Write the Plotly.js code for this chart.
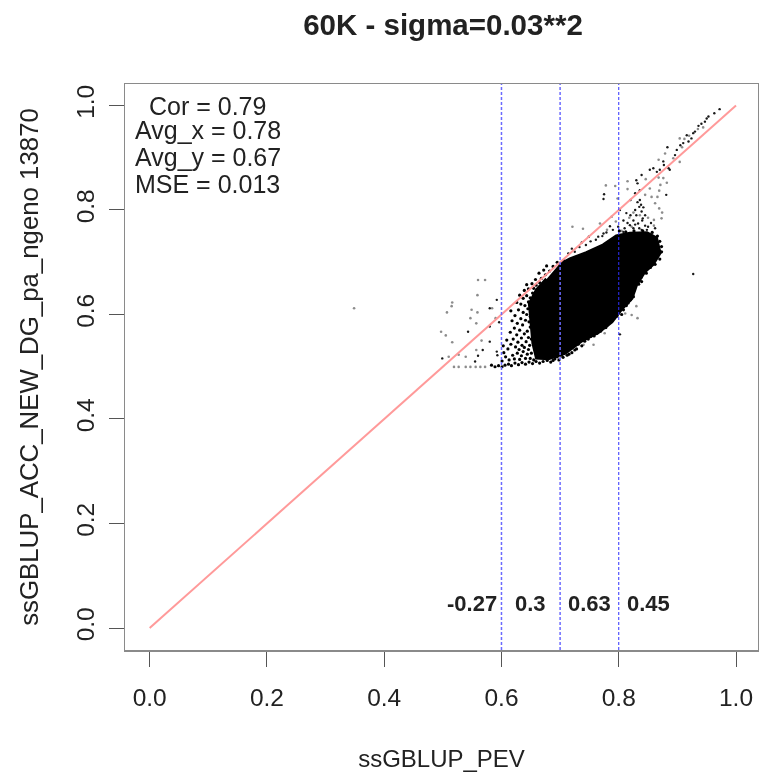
<!DOCTYPE html>
<html>
<head>
<meta charset="utf-8">
<script src="https://cdn.plot.ly/plotly-3.0.1.min.js"></script>
<style>
html,body{margin:0;padding:0;background:#fff;}
#plot{width:759px;height:775px;filter:blur(0.6px);}
</style>
</head>
<body>
<div id="plot"></div>
<script>
const chartTitle = "60K - sigma=0.03**2";
const xLabel = "ssGBLUP_PEV";
const yLabel = "ssGBLUP_ACC_NEW_DG_pa_ngeno 13870";
const tickValues = [0, 0.2, 0.4, 0.6, 0.8, 1.0];
const tickLabels = ["0.0", "0.2", "0.4", "0.6", "0.8", "1.0"];
const statLabels = ["Cor = 0.79", "Avg_x = 0.78", "Avg_y = 0.67", "MSE = 0.013"];
const statY = [0.999, 0.953, 0.901, 0.85];
const binLabels = ["-0.27", "0.3", "0.63", "0.45"];
const binX = [0.55, 0.65, 0.75, 0.85];
const cutoffs = [0.6, 0.7, 0.8];
const identityX = [0, 1];
const identityY = [0, 1];

// Outline of the saturated part of the cloud
const coreOutline = [
 [0.697,0.694],[0.717,0.706],[0.745,0.718],[0.774,0.733],[0.796,0.75],[0.819,0.755],[0.848,0.756],
 [0.864,0.746],[0.87,0.718],[0.858,0.696],[0.844,0.682],[0.83,0.657],[0.822,0.631],[0.805,0.611],
 [0.788,0.586],[0.765,0.566],[0.737,0.55],[0.708,0.526],[0.68,0.516],[0.66,0.517],[0.654,0.545],
 [0.651,0.583],[0.648,0.621],[0.66,0.647],[0.677,0.668]];
const coreX = coreOutline.map(p => p[0]);
const coreY = coreOutline.map(p => p[1]);

// Isolated pale dots
const paleDots = [
 [0.3486,0.612],[0.560,0.666],[0.572,0.666],[0.559,0.637],[0.516,0.623],[0.515,0.616],[0.507,0.604],
 [0.549,0.609],[0.559,0.604],[0.547,0.593],[0.557,0.583],[0.497,0.567],[0.505,0.560],[0.516,0.547],
 [0.566,0.550],[0.584,0.612],[0.590,0.593],[0.510,0.519],[0.527,0.523],[0.539,0.519],[0.557,0.532],
 [0.519,0.4997],[0.527,0.4997],[0.539,0.4997],[0.547,0.4997],[0.556,0.4997],[0.564,0.4997],[0.572,0.4997],
 [0.778,0.847],[0.794,0.846],[0.815,0.855],[0.815,0.84],[0.846,0.859],[0.868,0.862],[0.876,0.861],
 [0.882,0.852],[0.871,0.848],[0.869,0.837],[0.856,0.825],[0.866,0.825],[0.862,0.813],[0.869,0.803],
 [0.874,0.795],[0.873,0.784],[0.86,0.781],[0.721,0.768],[0.739,0.764],[0.868,0.896],[0.879,0.908],
 [0.904,0.892],[0.893,0.899],[0.904,0.937],[0.83,0.616],[0.822,0.599],[0.832,0.593],[0.811,0.602],
 [0.776,0.564],[0.757,0.542],[0.74,0.551],[0.717,0.554],[0.74,0.542],[0.72,0.535],[0.798,0.822],
 [0.788,0.787],[0.768,0.774],[0.853,0.841],[0.845,0.829],[0.912,0.936],[0.908,0.92],[0.92,0.942],
 [0.935,0.955],[0.944,0.958],[0.825,0.795],[0.818,0.785],[0.85,0.785],[0.836,0.79],[0.822,0.768],
 [0.795,0.778],[0.78,0.762],[0.86,0.77],[0.805,0.76]];

// Dark dots: tail, outliers and the loose upper fringe
const darkDots = [
 [0.927,0.6775],[0.543,0.567],[0.580,0.548],[0.580,0.612],[0.592,0.628],[0.580,0.577],[0.499,0.516],
 [0.560,0.521],[0.555,0.510],[0.568,0.532],[0.592,0.529],[0.593,0.522],[0.596,0.585],[0.802,0.562],
 [0.972,0.993],[0.963,0.985],[0.953,0.979],[0.95,0.975],[0.947,0.969],[0.941,0.965],[0.936,0.961],[0.93,0.95],
 [0.927,0.947],[0.916,0.943],[0.919,0.931],[0.91,0.928],[0.905,0.924],[0.924,0.937],[0.899,0.915],[0.883,0.92],
 [0.896,0.905],[0.876,0.893],[0.877,0.886],[0.853,0.877],[0.859,0.88],[0.865,0.873],[0.87,0.877],[0.885,0.88],
 [0.887,0.877],[0.839,0.867],[0.83,0.857],[0.832,0.851],[0.881,0.829],[0.836,0.838],[0.775,0.83],[0.774,0.821],
 [0.828,0.832],[0.82,0.819],[0.836,0.819],[0.835,0.806],[0.839,0.797],[0.841,0.784],[0.828,0.8],[0.813,0.794],
 [0.802,0.8],[0.785,0.769],[0.799,0.768],[0.819,0.771],[0.833,0.774],[0.85,0.768],[0.839,0.762],[0.862,0.765],
 [0.808,0.758],[0.774,0.755],[0.765,0.749],[0.83,0.79],[0.84,0.78],[0.845,0.77],[0.825,0.78],[0.815,0.775],
 [0.835,0.765],[0.825,0.765],[0.855,0.775],[0.808,0.78],[0.842,0.805],[0.832,0.815],[0.838,0.81],[0.82,0.79],
 [0.81,0.765],[0.845,0.79],[0.828,0.772],[0.848,0.762],[0.744,0.733],[0.761,0.743],[0.737,0.738],[0.72,0.726],
 [0.749,0.749],[0.79,0.762],[0.779,0.757],[0.772,0.75],[0.752,0.74],[0.733,0.729],[0.725,0.72],[0.714,0.717]];

// Speckle left of the core and the fuzz hugging its edge, placed by eye
const speckleDots = [
 [0.583,0.503],[0.589,0.5],[0.595,0.502],[0.601,0.5],[0.606,0.503],[0.612,0.505],[0.617,0.502],[0.623,0.507],
 [0.629,0.504],[0.635,0.508],[0.641,0.505],[0.647,0.509],[0.653,0.506],[0.659,0.51],[0.665,0.507],[0.671,0.51],
 [0.678,0.512],[0.684,0.509],[0.691,0.515],[0.698,0.513],[0.705,0.518],[0.712,0.522],[0.72,0.527],[0.728,0.534],
 [0.601,0.511],[0.607,0.519],[0.604,0.527],[0.613,0.513],[0.619,0.522],[0.611,0.534],[0.603,0.54],[0.616,0.543],
 [0.622,0.515],[0.627,0.526],[0.624,0.538],[0.609,0.551],[0.62,0.553],[0.631,0.514],[0.634,0.521],[0.63,0.533],
 [0.628,0.547],[0.637,0.529],[0.635,0.541],[0.641,0.516],[0.644,0.524],[0.639,0.537],[0.646,0.533],[0.642,0.548],
 [0.649,0.516],[0.651,0.526],[0.648,0.541],[0.655,0.513],[0.634,0.555],[0.626,0.561],[0.646,0.556],[0.639,0.563],
 [0.651,0.553],[0.615,0.566],[0.622,0.574],[0.631,0.57],[0.644,0.568],[0.649,0.576],[0.636,0.58],[0.627,0.583],
 [0.618,0.588],[0.641,0.589],[0.647,0.586],[0.633,0.592],[0.623,0.598],[0.643,0.6],[0.649,0.596],[0.637,0.604],
 [0.629,0.609],[0.616,0.607],[0.645,0.611],[0.64,0.617],[0.633,0.62],[0.626,0.623],[0.646,0.624],[0.637,0.631],
 [0.631,0.637],[0.643,0.636],[0.649,0.632],[0.653,0.641],[0.639,0.646],[0.646,0.649],[0.655,0.65],[0.643,0.657],
 [0.652,0.659],[0.659,0.656],[0.665,0.661],[0.658,0.667],[0.668,0.669],[0.675,0.676],[0.664,0.679],[0.672,0.685],
 [0.682,0.683],[0.688,0.692],[0.677,0.693],[0.695,0.7],[0.706,0.703],
 [0.801,0.76],[0.812,0.758],[0.826,0.76],[0.841,0.76],[0.857,0.757],[0.866,0.75],[0.87,0.74],
 [0.873,0.73],[0.873,0.72],[0.87,0.706],[0.862,0.696],[0.854,0.69],[0.847,0.679],[0.838,0.671],[0.834,0.658],
 [0.827,0.647],[0.825,0.634],[0.816,0.622],[0.808,0.609],[0.8,0.603],[0.792,0.594],[0.781,0.58],[0.772,0.574],
 [0.763,0.564],[0.752,0.558],[0.742,0.549],[0.731,0.543],[0.722,0.538],[0.711,0.531],[0.839,0.663],
 [0.715,0.524],[0.702,0.522],[0.695,0.519],[0.688,0.512],[0.725,0.532],[0.737,0.54],[0.748,0.553],[0.758,0.559],
 [0.769,0.568],[0.778,0.575],[0.788,0.587],[0.797,0.597],[0.805,0.6],[0.813,0.617],[0.82,0.628]];

const traces = [
 {type:"scatter", mode:"lines", x:coreX, y:coreY, fill:"toself", fillcolor:"#000", line:{color:"#000", width:3.5}, hoverinfo:"skip", showlegend:false},
 {type:"scatter", mode:"markers", x:paleDots.map(p=>p[0]), y:paleDots.map(p=>p[1]), marker:{color:"rgba(0,0,0,0.45)", size:2.6}, hoverinfo:"skip", showlegend:false},
 {type:"scatter", mode:"markers", x:darkDots.map(p=>p[0]), y:darkDots.map(p=>p[1]), marker:{color:"rgba(0,0,0,0.9)", size:2.4}, hoverinfo:"skip", showlegend:false},
 {type:"scatter", mode:"markers", x:speckleDots.map(p=>p[0]), y:speckleDots.map(p=>p[1]), marker:{color:"#000", size:3.2}, hoverinfo:"skip", showlegend:false},
 {type:"scatter", mode:"lines", x:identityX, y:identityY, line:{color:"#ff9a9a", width:2}, hoverinfo:"skip", showlegend:false}
];

const axisBase = {
 tickmode:"array", tickvals:tickValues, ticktext:tickLabels, ticks:"outside", ticklen:15, tickwidth:1, tickcolor:"#555",
 showgrid:false, zeroline:false, showline:true, mirror:true, linecolor:"#8a8a8a", linewidth:1.5,
 tickfont:{family:"Liberation Sans", size:24.5, color:"#222"}, automargin:false
};

const annotations = [];
statLabels.forEach((t,i)=>annotations.push({x:0.099, y:statY[i], xref:"x", yref:"y", text:t, showarrow:false, xanchor:"center", yanchor:"middle", font:{family:"Liberation Sans", size:25, color:"#222"}}));
binLabels.forEach((t,i)=>annotations.push({x:binX[i], y:0.046, xref:"x", yref:"y", text:t, showarrow:false, xanchor:"center", yanchor:"middle", font:{family:"Liberation Sans", size:22, color:"#222", weight:700}}));

const layout = {
 width:759, height:775, paper_bgcolor:"#fff", plot_bgcolor:"#fff",
 margin:{l:125, r:1, t:84, b:125, pad:0}, showlegend:false, hovermode:false,
 title:{text:chartTitle, font:{family:"Liberation Sans", size:29.5, color:"#222", weight:700}, x:443/759, xanchor:"center", y:1-25/775, yanchor:"middle"},
 xaxis:Object.assign({}, axisBase, {range:[-0.0421,1.0375], ticklabelstandoff:10, title:{text:xLabel, font:{family:"Liberation Sans", size:24, color:"#222"}, standoff:40}}),
 yaxis:Object.assign({}, axisBase, {range:[-0.0421,1.0411], tickangle:-90, ticklabelstandoff:5, title:{text:yLabel, font:{family:"Liberation Sans", size:25.8, color:"#222"}, standoff:25}}),
 shapes:cutoffs.map((c,i)=>({type:"line", xref:"x", yref:"paper", x0:c, x1:c, y0:0, y1:1, line:{color:i===2?"#3030ff":"#6a6aff", width:i===2?1:1.5, dash:"3px,2px"}})),
 annotations:annotations
};
Plotly.newPlot("plot", traces, layout, {displayModeBar:false, staticPlot:true});
</script>
</body>
</html>
